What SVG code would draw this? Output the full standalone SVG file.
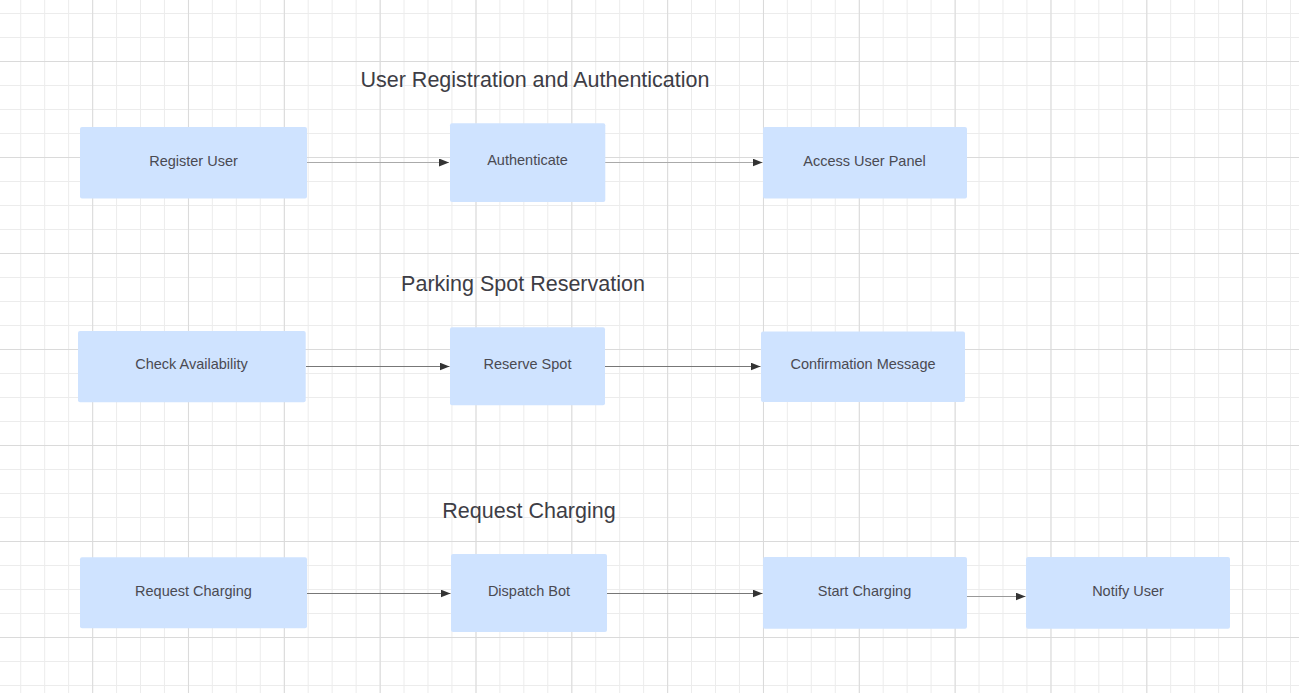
<svg xmlns="http://www.w3.org/2000/svg" width="1299" height="693" viewBox="0 0 1299 693">
<defs>
<pattern id="minor" patternUnits="userSpaceOnUse" x="20.2" y="13" width="23.958" height="24">
<rect x="0" y="0" width="1" height="24" fill="#ececec"/>
<rect x="0" y="0" width="23.958" height="1" fill="#ececec"/>
</pattern>
<pattern id="major" patternUnits="userSpaceOnUse" x="92.2" y="61" width="95.83" height="96">
<rect x="0" y="0" width="1" height="96" fill="#dadada"/>
<rect x="0" y="0" width="95.83" height="1" fill="#dadada"/>
</pattern>
<marker id="arr" viewBox="0 0 10 8" refX="10" refY="4" markerWidth="10" markerHeight="8" markerUnits="userSpaceOnUse" orient="auto">
<path d="M0,0 L10,4 L0,8 Z" fill="#333"/>
</marker>
</defs>
<style>
.node rect{fill:#cfe3ff;}
.node text{font-family:"Liberation Sans",Arial,sans-serif;font-size:14.5px;fill:#4a4a52;text-anchor:middle;}
.title{font-family:"Liberation Sans",Arial,sans-serif;font-size:21.5px;fill:#3d3d45;text-anchor:middle;}
.c{stroke:#777;stroke-width:1;fill:none;marker-end:url(#arr);}
.cl{stroke:#aaa;}
</style>
<rect width="1299" height="693" fill="#ffffff"/>
<rect width="1299" height="693" fill="url(#minor)"/>
<rect width="1299" height="693" fill="url(#major)"/>

<text class="title" x="535" y="87">User Registration and Authentication</text>
<text class="title" x="523" y="291">Parking Spot Reservation</text>
<text class="title" x="529" y="518">Request Charging</text>

<g id="connectors">
<line class="c cl" x1="307" y1="162.5" x2="449" y2="162.5"/>
<line class="c cl" x1="605" y1="162.5" x2="762.5" y2="162.5"/>
<line class="c" x1="306" y1="366.5" x2="449.5" y2="366.5"/>
<line class="c" x1="605" y1="366.5" x2="760.5" y2="366.5"/>
<line class="c" x1="307" y1="593.5" x2="450.5" y2="593.5"/>
<line class="c" x1="607" y1="593.5" x2="762.5" y2="593.5"/>
<line class="c" style="stroke:#999" x1="967" y1="596.5" x2="1025.5" y2="596.5"/>
</g>

<g id="register-user" class="node"><rect x="80" y="127" width="227" height="71.5" rx="2"/><text x="193.5" y="165.5">Register User</text></g>
<g id="authenticate" class="node"><rect x="450" y="123.3" width="155.3" height="78.7" rx="2"/><text x="527.5" y="165">Authenticate</text></g>
<g id="access-user-panel" class="node"><rect x="763" y="127" width="204" height="71.5" rx="2"/><text x="864.5" y="165.5">Access User Panel</text></g>

<g id="check-availability" class="node"><rect x="78" y="331" width="227.7" height="71.3" rx="2"/><text x="191.5" y="369">Check Availability</text></g>
<g id="reserve-spot" class="node"><rect x="450" y="327.3" width="155" height="78" rx="2"/><text x="527.5" y="368.5">Reserve Spot</text></g>
<g id="confirmation-message" class="node"><rect x="761" y="331.5" width="204" height="70.5" rx="2"/><text x="863" y="369">Confirmation Message</text></g>

<g id="request-charging" class="node"><rect x="80" y="557.3" width="227" height="71" rx="2"/><text x="193.5" y="595.5">Request Charging</text></g>
<g id="dispatch-bot" class="node"><rect x="451" y="554" width="156" height="78" rx="2"/><text x="529" y="595.5">Dispatch Bot</text></g>
<g id="start-charging" class="node"><rect x="763" y="557" width="204" height="71.7" rx="2"/><text x="864.5" y="595.5">Start Charging</text></g>
<g id="notify-user" class="node"><rect x="1026" y="557" width="204" height="71.7" rx="2"/><text x="1128" y="595.5">Notify User</text></g>
</svg>
